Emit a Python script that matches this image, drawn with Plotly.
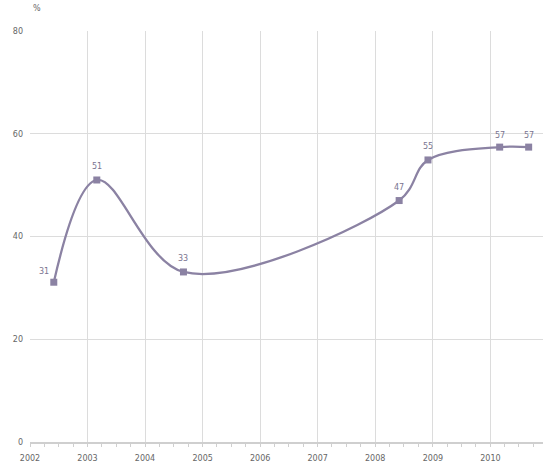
import plotly.graph_objects as go

dates = ["2002-06-01", "2003-03-01", "2004-09-01", "2008-06-01", "2008-12-01", "2010-03-01", "2010-09-01"]
values = [31.1, 51, 33.1, 47, 54.9, 57.4, 57.4]
labels = ["31", "51", "33", "47", "55", "57", "57"]
label_dx = [-10, 0, 0, 0, 0, 0, 0]
label_dy = [11, 13, 13, 13, 13, 12, 12]
year_ticks = [f"{y}-01-01" for y in range(2002, 2011)]
year_labels = [str(y) for y in range(2002, 2011)]

color = "#8b82a3"

fig = go.Figure()
fig.add_trace(go.Scatter(
    x=dates, y=values, mode="lines+markers",
    line=dict(color=color, width=2.3, shape="spline", smoothing=1.0),
    marker=dict(symbol="square", size=7, color=color),
    cliponaxis=False, hoverinfo="skip",
))

annotations = [dict(text="%", xref="paper", yref="paper", x=0.013, y=1.055,
                    xanchor="center", yanchor="middle", showarrow=False,
                    font=dict(size=8, color="#666"))]
for d, v, t, dx, dy in zip(dates, values, labels, label_dx, label_dy):
    annotations.append(dict(x=d, y=v, xref="x", yref="y", text=t, showarrow=False,
                            xshift=dx, yshift=dy, xanchor="center", yanchor="middle",
                            font=dict(size=8, color="#7a7490", family="DejaVu Sans")))

fig.update_layout(
    width=543, height=466,
    margin=dict(l=30, r=0, t=31, b=24),
    paper_bgcolor="white", plot_bgcolor="white",
    showlegend=False,
    font=dict(family="DejaVu Sans", size=8, color="#666"),
    annotations=annotations,
)

fig.update_xaxes(
    type="date", range=["2002-01-01", "2010-12-01"], automargin=False,
    tickmode="array", tickvals=year_ticks, ticktext=year_labels,
    showgrid=True, gridcolor="#dcdcdc", gridwidth=1.3,
    showline=True, linecolor="#cfcfcf", linewidth=2,
    ticks="", tickfont=dict(size=8, color="#666"), ticklabelstandoff=7,
    minor=dict(dtick="M3", ticks="outside", ticklen=3, tickcolor="#cfcfcf", showgrid=False),
    zeroline=False,
)
fig.update_yaxes(
    range=[0, 80], tickvals=[0, 20, 40, 60, 80], automargin=False,
    showgrid=True, gridcolor="#dcdcdc", gridwidth=1.3,
    zeroline=False, showline=False, ticks="",
    tickfont=dict(size=8, color="#666"), ticklabelstandoff=6,
)

fig.write_html("out.html", config={"displayModeBar": False},
               post_script="document.body.style.margin='0px';document.body.style.overflow='hidden';")
